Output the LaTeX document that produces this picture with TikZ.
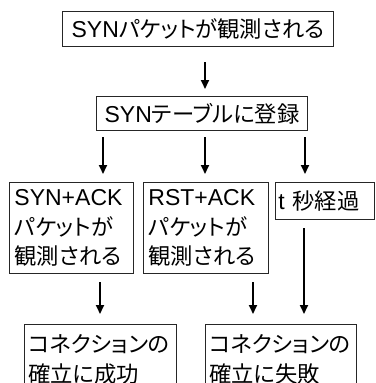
\documentclass[tikz,border=0pt]{standalone}
\usepackage{fontspec}
\setmainfont{Liberation Sans}
\newfontfamily\jp{Noto Sans CJK JP}[Scale=0.97, RawFeature=+palt]
\usetikzlibrary{arrows.meta}
\tikzset{
  box/.style={draw=black!85, line width=0.9pt, inner sep=0pt, anchor=north west,
    font=\fontsize{23}{29.5}\selectfont, align=left},
  arr/.style={line width=2pt, -{Triangle[length=9pt,width=8pt]}}
}
\begin{document}
\begin{tikzpicture}[x=1pt,y=-1pt]
\useasboundingbox (0,0) rectangle (375,383);
% boxes
\node[box, minimum width=271pt, minimum height=35pt] (b1) at (62,11) {SYN{\jp パケットが観測される}};
\node[box, minimum width=211pt, minimum height=34pt] (b2) at (96,96) {SYN{\jp テーブルに登録}};
\node[box, minimum width=124pt, minimum height=91pt, text width=114pt] (b3) at (9,182)
  {SYN+ACK\\{\jp パケットが}\\{\jp 観測される}};
\node[box, minimum width=125pt, minimum height=91pt, text width=115pt] (b4) at (143,182)
  {RST+ACK\\{\jp パケットが}\\{\jp 観測される}};
\node[box, minimum width=99pt, minimum height=37pt, text width=93pt] (b5) at (275,182)
  {t {\jp 秒経過}};
\node[box, minimum width=152pt, minimum height=70pt, text width=144pt] (b6) at (24,324)
  {{\jp コネクションの}\\{\jp 確立に成功}};
\node[box, minimum width=151pt, minimum height=70pt, text width=143pt] (b7) at (205,324)
  {{\jp コネクションの}\\{\jp 確立に失敗}};
% connector end points
\coordinate (a1s) at (205,62);  \coordinate (a1e) at (205,89);
\coordinate (a2s) at (103,137); \coordinate (a2e) at (103,174);
\coordinate (a3s) at (205,137); \coordinate (a3e) at (205,174);
\coordinate (a4s) at (305,137); \coordinate (a4e) at (305,174);
\coordinate (a5s) at (100,282); \coordinate (a5e) at (100,314);
\coordinate (a6s) at (253,282); \coordinate (a6e) at (253,314);
\coordinate (a7s) at (304,228); \coordinate (a7e) at (304,314);
\draw[arr] (a1s) -- (a1e);
\draw[arr] (a2s) -- (a2e);
\draw[arr] (a3s) -- (a3e);
\draw[arr] (a4s) -- (a4e);
\draw[arr] (a5s) -- (a5e);
\draw[arr] (a6s) -- (a6e);
\draw[arr] (a7s) -- (a7e);
\end{tikzpicture}
\end{document}
